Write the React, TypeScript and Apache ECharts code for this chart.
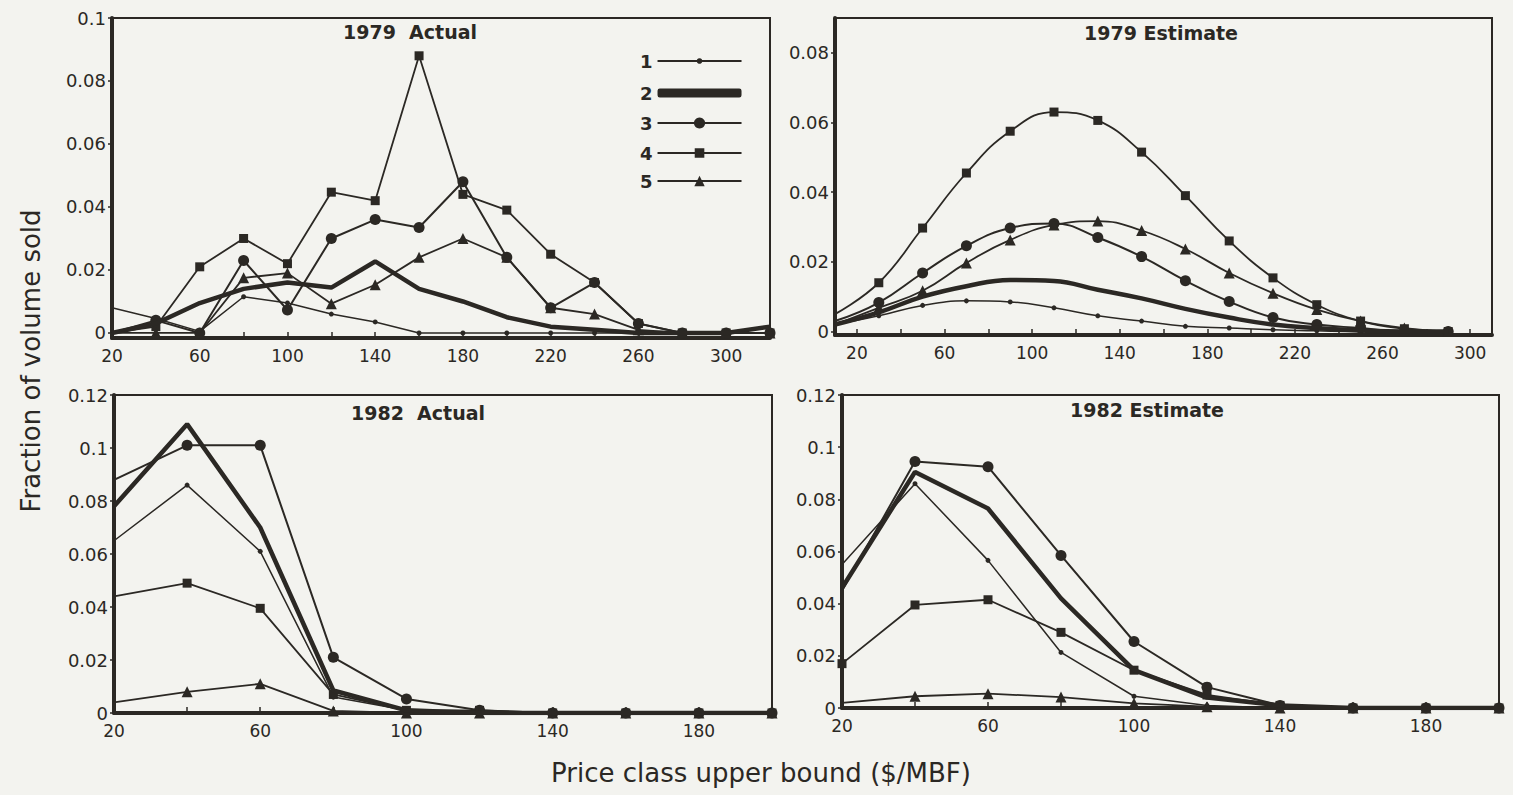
import React, { useEffect, useRef } from "react";
import * as echarts from "echarts";

const INK = "#2b2824";
const BG = "#f3f3ef";
const FONT = '"DejaVu Sans", Arial, sans-serif';

// ---------- 1979 Actual ----------
const x79A = [20, 40, 60, 80, 100, 120, 140, 160, 180, 200, 220, 240, 260, 280, 300, 320];
const a79s1 = [0.008, 0.0046, 0.0005, 0.0115, 0.0095, 0.006, 0.0035, 0, 0, 0, 0, 0, 0, 0, 0, 0];
const a79s2 = [0, 0.003, 0.0095, 0.014, 0.016, 0.0144, 0.0227, 0.014, 0.01, 0.005, 0.002, 0.001, 0, 0, 0, 0.002];
const a79s3 = [0, 0.004, 0, 0.023, 0.0073, 0.03, 0.036, 0.0335, 0.048, 0.024, 0.008, 0.016, 0.003, 0, 0, 0];
const a79s4 = [0, 0.002, 0.021, 0.03, 0.022, 0.0447, 0.042, 0.088, 0.044, 0.039, 0.025, 0.016, 0.003, 0, 0, 0];
const a79s5 = [0, 0, 0, 0.0175, 0.019, 0.0093, 0.0153, 0.024, 0.03, 0.024, 0.008, 0.006, 0.001, 0, 0, 0];

// ---------- 1979 Estimate ----------
const x79E = [10, 30, 50, 70, 90, 110, 130, 150, 170, 190, 210, 230, 250, 270, 290];
const e79s1 = [0.002, 0.0045, 0.0075, 0.0088, 0.0085, 0.0068, 0.0045, 0.003, 0.0015, 0.001, 0.0005, 0.0002, 0, 0, 0];
const e79s2 = [0.002, 0.0055, 0.01, 0.013, 0.0148, 0.0145, 0.012, 0.0095, 0.0065, 0.004, 0.002, 0.001, 0.0003, 0, 0];
const e79s3 = [0.003, 0.0083, 0.0168, 0.0246, 0.0297, 0.031, 0.027, 0.0215, 0.0146, 0.0086, 0.004, 0.002, 0.001, 0, 0];
const e79s4 = [0.005, 0.014, 0.0297, 0.0455, 0.0575, 0.063, 0.0606, 0.0515, 0.039, 0.026, 0.0154, 0.0077, 0.003, 0.0008, 0];
const e79s5 = [0.002, 0.0068, 0.0117, 0.0197, 0.0263, 0.0306, 0.0317, 0.029, 0.0237, 0.0168, 0.011, 0.0063, 0.003, 0.001, 0];

// ---------- 1982 Actual ----------
const x82 = [20, 40, 60, 80, 100, 120, 140, 160, 180, 200];
const a82s1 = [0.065, 0.086, 0.061, 0.006, 0.001, 0, 0, 0, 0, 0];
const a82s2 = [0.078, 0.109, 0.07, 0.0085, 0.001, 0, 0, 0, 0, 0];
const a82s3 = [0.088, 0.101, 0.101, 0.021, 0.0053, 0.001, 0, 0, 0, 0];
const a82s4 = [0.044, 0.049, 0.0395, 0.007, 0.001, 0.001, 0, 0, 0, 0];
const a82s5 = [0.004, 0.008, 0.011, 0.0008, 0, 0, 0, 0, 0, 0];

// ---------- 1982 Estimate ----------
const e82s1 = [0.055, 0.086, 0.0566, 0.0213, 0.0045, 0.001, 0, 0, 0, 0];
const e82s2 = [0.046, 0.0905, 0.0765, 0.042, 0.0145, 0.004, 0.001, 0, 0, 0];
const e82s3 = [0.045, 0.0945, 0.0925, 0.0585, 0.0255, 0.008, 0.001, 0, 0, 0];
const e82s4 = [0.017, 0.0395, 0.0415, 0.029, 0.0145, 0.005, 0.001, 0, 0, 0];
const e82s5 = [0.002, 0.0045, 0.0055, 0.0042, 0.0018, 0.0005, 0, 0, 0, 0];

// tick labels
const xLabels79 = [20, 60, 100, 140, 180, 220, 260, 300];
const xLabels82 = [20, 60, 100, 140, 180];
const yLabels79A = [0, 0.02, 0.04, 0.06, 0.08, 0.1];
const yLabels79E = [0, 0.02, 0.04, 0.06, 0.08];
const yLabels82 = [0, 0.02, 0.04, 0.06, 0.08, 0.1, 0.12];
const xTicks79A = [40, 60, 80, 100, 120, 140, 160, 180, 200, 220, 240, 260, 280, 300];
const xTicks79E = [20, 40, 60, 80, 100, 120, 140, 160, 180, 200, 220, 240, 260, 280, 300];
const xTicks82 = [40, 60, 80, 100, 120, 140, 160, 180];

const seriesNames = ["1", "2", "3", "4", "5"];
const panelTitles = ["1979  Actual", "1979 Estimate", "1982  Actual", "1982 Estimate"];

const STY = [
  { symbol: "circle", size: 5, width: 1.5 },
  { symbol: "none", size: 0, width: 4.5 },
  { symbol: "circle", size: 11, width: 2 },
  { symbol: "rect", size: 9, width: 1.8 },
  { symbol: "triangle", size: 11, width: 1.8 },
];

function mk(panel: number, xs: number[], ys: number[], k: number, smooth: boolean, showFirst = false) {
  const s = STY[k];
  return {
    type: "line",
    name: seriesNames[k],
    xAxisIndex: panel,
    yAxisIndex: panel,
    data: xs.map((x, i) => (i === 0 && !showFirst ? { value: [x, ys[i]], symbol: "none" } : [x, ys[i]])),
    symbol: s.symbol,
    symbolSize: s.size,
    showSymbol: true,
    showAllSymbol: true,
    smooth: smooth ? 0.45 : false,
    lineStyle: { color: INK, width: s.width },
    itemStyle: { color: INK, borderWidth: 0 },
    emphasis: { disabled: true },
    silent: true,
    clip: true,
    z: k === 1 ? 3 : 2,
  };
}

function xAx(idx: number, min: number, max: number, labels: number[], ticks: number[]) {
  return {
    type: "value",
    gridIndex: idx,
    min,
    max,
    splitLine: { show: false },
    axisLine: { show: true, onZero: false, lineStyle: { color: INK, width: 4 } },
    axisTick: { show: true, inside: true, length: 6, customValues: ticks, lineStyle: { color: INK, width: 1.5 } },
    axisLabel: {
      show: true,
      customValues: labels,
      margin: 9,
      color: INK,
      fontSize: 17,
      fontFamily: FONT,
      showMinLabel: true,
      showMaxLabel: true,
    },
  };
}

function yAx(idx: number, min: number, max: number, labels: number[]) {
  return {
    type: "value",
    gridIndex: idx,
    min,
    max,
    splitLine: { show: false },
    axisLine: { show: true, onZero: false, lineStyle: { color: INK, width: 4 } },
    axisTick: { show: true, inside: false, length: 4, customValues: labels, lineStyle: { color: INK, width: 1.5 } },
    axisLabel: {
      show: true,
      customValues: labels,
      margin: 6,
      color: INK,
      fontSize: 18,
      fontFamily: FONT,
    },
  };
}

const legendCenters = [63, 95, 125, 155, 183];
const legendItemH = [7, 9, 14, 12, 13];

export default function App() {
  const ref = useRef<HTMLDivElement>(null);
  useEffect(() => {
    document.body.style.margin = "0";
    document.body.style.background = BG;
    if (!ref.current) return;
    const chart = echarts.init(ref.current, null, { renderer: "svg" });

    const grids = [
      { left: 112, top: 18, width: 658, height: 320 },
      { left: 835, top: 18, width: 657, height: 317 },
      { left: 114, top: 395, width: 658, height: 318 },
      { left: 842, top: 395, width: 657, height: 313 },
    ].map((g) => ({
      ...g,
      show: true,
      borderColor: INK,
      borderWidth: 2,
      backgroundColor: "transparent",
      containLabel: false,
      outerBoundsMode: "none",
    }));

    const series: any[] = [];
    const p1 = [a79s1, a79s2, a79s3, a79s4, a79s5];
    const p2 = [e79s1, e79s2, e79s3, e79s4, e79s5];
    const p3 = [a82s1, a82s2, a82s3, a82s4, a82s5];
    const p4 = [e82s1, e82s2, e82s3, e82s4, e82s5];
    p1.forEach((ys, k) => series.push(mk(0, x79A, ys, k, false)));
    p2.forEach((ys, k) => series.push(mk(1, x79E, ys, k, true)));
    p3.forEach((ys, k) => series.push(mk(2, x82, ys, k, false)));
    p4.forEach((ys, k) => series.push(mk(3, x82, ys, k, false, k === 3)));

    const legends = seriesNames.map((n, k) => ({
      data: k === 1 ? [{ name: n, icon: "roundRect", itemStyle: { color: INK } }] : [n],
      left: 640,
      top: legendCenters[k] - 11,
      orient: "horizontal",
      align: "right",
      padding: 0,
      itemWidth: 84,
      itemHeight: legendItemH[k],
      selectedMode: false,
      textStyle: { color: INK, fontSize: 18, fontWeight: "bold", fontFamily: FONT },
    }));

    const titlePos = [
      [410, 32],
      [1161, 33],
      [418, 413],
      [1147, 410],
    ];
    const graphics: any[] = panelTitles.map((t, i) => ({
      type: "text",
      x: titlePos[i][0],
      y: titlePos[i][1],
      silent: true,
      style: {
        text: t,
        font: `bold 19px ${FONT}`,
        fill: INK,
        textAlign: "center",
        textVerticalAlign: "middle",
        verticalAlign: "middle",
      },
    }));
    graphics.push({
      type: "text",
      x: 31,
      y: 361,
      rotation: Math.PI / 2,
      silent: true,
      style: {
        text: "Fraction of volume sold",
        font: `26px ${FONT}`,
        fill: INK,
        textAlign: "center",
        textVerticalAlign: "middle",
        verticalAlign: "middle",
      },
    });
    graphics.push({
      type: "text",
      x: 761,
      y: 773,
      silent: true,
      style: {
        text: "Price class upper bound ($/MBF)",
        font: `26px ${FONT}`,
        fill: INK,
        textAlign: "center",
        textVerticalAlign: "middle",
        verticalAlign: "middle",
      },
    });

    chart.setOption({
      animation: false,
      backgroundColor: BG,
      textStyle: { fontFamily: FONT },
      grid: grids,
      xAxis: [
        xAx(0, 20, 320, xLabels79, xTicks79A),
        xAx(1, 10, 310, xLabels79, xTicks79E),
        xAx(2, 20, 200, xLabels82, xTicks82),
        xAx(3, 20, 200, xLabels82, xTicks82),
      ],
      yAxis: [
        yAx(0, -0.0016, 0.1, yLabels79A),
        yAx(1, -0.001, 0.09, yLabels79E),
        yAx(2, 0, 0.12, yLabels82),
        yAx(3, 0, 0.12, yLabels82),
      ],
      legend: legends,
      graphic: graphics,
      series,
    });

    return () => chart.dispose();
  }, []);

  return <div ref={ref} style={{ width: 1513, height: 795, background: BG }} />;
}
